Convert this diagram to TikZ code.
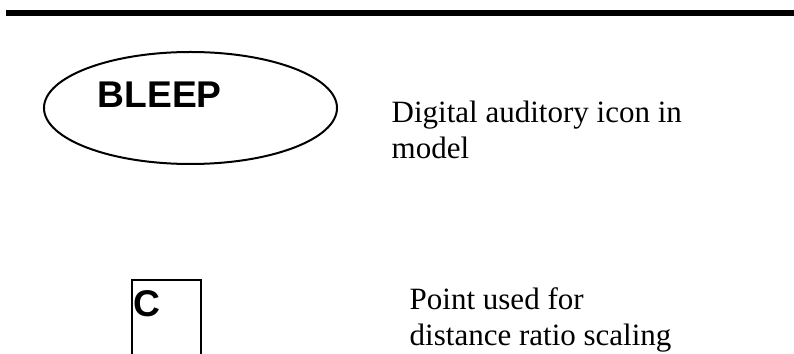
\documentclass[tikz,border=0pt]{standalone}
\usepackage{fontspec}
\setmainfont{Liberation Serif}
\newfontfamily\arialb{Liberation Sans}[BoldFont={* Bold}]
\usetikzlibrary{shapes.geometric}
\begin{document}
\begin{tikzpicture}[x=1pt,y=1pt,
  outline/.style={draw=black, line width=2pt},
  boldlabel/.style={font=\arialb\bfseries\fontsize{37.2}{40}\selectfont, inner sep=0pt},
  desc/.style={font=\fontsize{31}{36.5}\selectfont, inner sep=0pt, align=left}]
\useasboundingbox (0,0) rectangle (794,353);
\clip (0,0) rectangle (794,353);
% top rule
\coordinate (ruleL) at (6,340);
\coordinate (ruleR) at (794,340);
\draw[line width=6pt] (ruleL) -- (ruleR);
% ellipse
\node[outline, ellipse, minimum width=293pt, minimum height=112pt, inner sep=0pt] (ell) at (190.5,245) {};
\node[boldlabel, anchor=base west] (bleep) at (97.5,245) {BLEEP};
\node[desc, anchor=base west] (desc1) at (391.5,194) {Digital auditory icon in\\model};
% rectangle C
\node[outline, rectangle, anchor=north west, minimum width=69pt, minimum height=100pt, inner sep=0pt] (cbox) at (131,74) {};
\node[boldlabel, anchor=base west] (clabel) at (133,36) {C};
\node[desc, anchor=base west] (desc2) at (409.5,7.5) {Point used for\\distance ratio scaling};
\end{tikzpicture}
\end{document}
